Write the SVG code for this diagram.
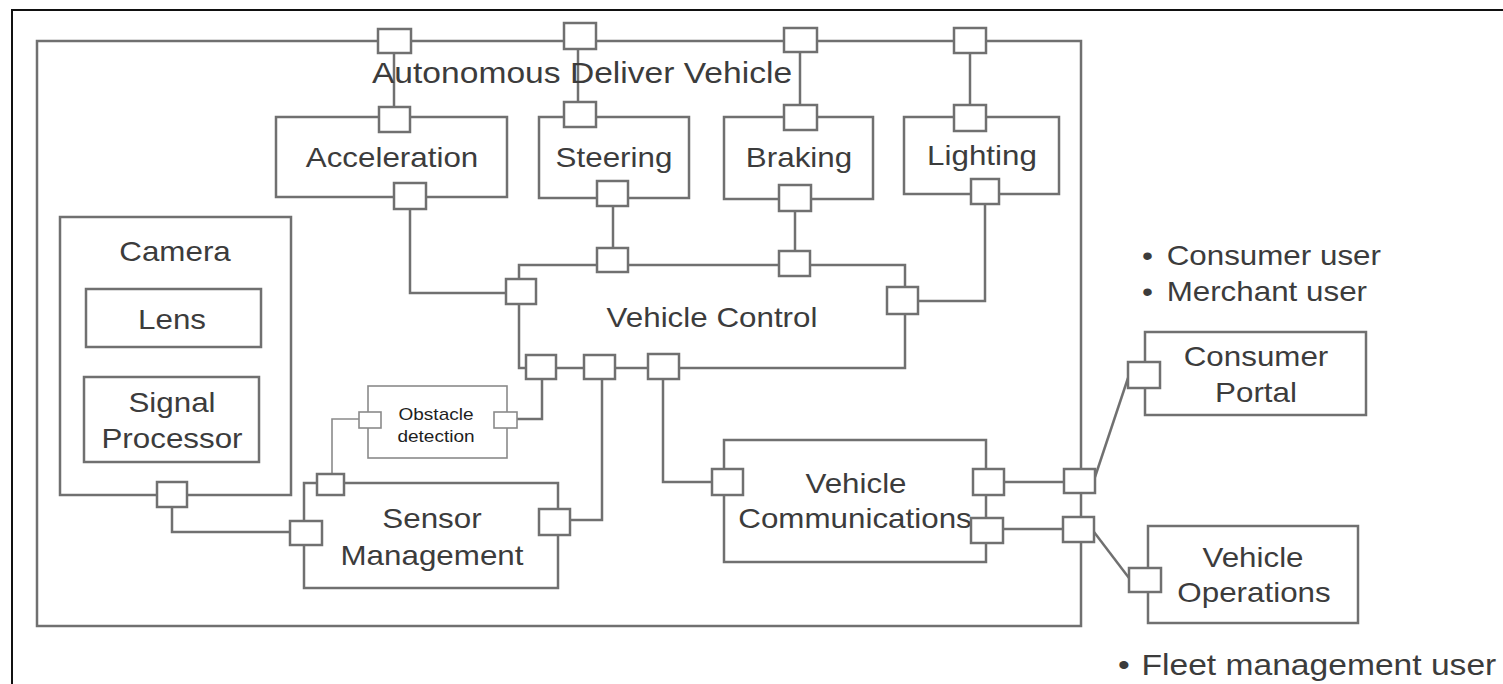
<svg xmlns="http://www.w3.org/2000/svg" width="1503" height="684" viewBox="0 0 1503 684">
  <style>
    .frame { fill: none; stroke: #111; stroke-width: 2; }
    .box { fill: #fff; stroke: #707070; stroke-width: 2.5; }
    .outer { fill: none; stroke: #707070; stroke-width: 2.5; }
    .port { fill: #fff; stroke: #707070; stroke-width: 2.5; }
    .thin { fill: #fff; stroke: #8a8a8a; stroke-width: 1.6; }
    .wire { fill: none; stroke: #707070; stroke-width: 2.5; }
    .wire-thin { fill: none; stroke: #8a8a8a; stroke-width: 1.6; }
    text { font-family: "Liberation Sans", Arial, sans-serif; fill: #3c3c3c; font-size: 28px; }
    .c { text-anchor: middle; }
    .title { font-size: 30px; }
    .small { font-size: 17px; fill: #1e1e1e; }
    .big { font-size: 30px; }
  </style>

  <!-- page border (top and left only) -->
  <path class="frame" d="M12 684 V10 H1503"/>

  <!-- connectors -->
  <g id="connectors">
    <path class="wire" d="M394 53 V107"/>
    <path class="wire" d="M578 49 V102"/>
    <path class="wire" d="M800 52 V105"/>
    <path class="wire" d="M970 53 V105"/>
    <path class="wire" d="M410 209 V293 H506"/>
    <path class="wire" d="M613 206 V248"/>
    <path class="wire" d="M795 211 V252"/>
    <path class="wire" d="M985 204 V301 H918"/>
    <path class="wire" d="M172 347 V377"/>
    <path class="wire" d="M172 462 V482"/>
    <path class="wire" d="M172 507 V532 H290"/>
    <path class="wire-thin" d="M332 474 V419 H359"/>
    <path class="wire" d="M517 419 H542 V379"/>
    <path class="wire" d="M602 379 V520 H570"/>
    <path class="wire" d="M663 379 V482 H712"/>
    <path class="wire" d="M1004 482 H1064"/>
    <path class="wire" d="M1003 529 H1063"/>
    <path class="wire" d="M1095 477 L1128 378"/>
    <path class="wire" d="M1094 532 L1129 578"/>
  </g>

  <!-- vehicle boundary -->
  <g id="vehicle">
    <rect class="outer" x="37" y="41" width="1044" height="585"/>
    <text class="c title" transform="translate(582 83) scale(1.12 1)">Autonomous Deliver Vehicle</text>
    <rect class="port" x="378" y="29" width="33" height="24"/>
    <rect class="port" x="564" y="23" width="32" height="26"/>
    <rect class="port" x="784" y="28" width="33" height="24"/>
    <rect class="port" x="954" y="28" width="32" height="25"/>
    <rect class="port" x="1064" y="469" width="31" height="24"/>
    <rect class="port" x="1063" y="517" width="31" height="25"/>
  </g>

  <g id="acceleration">
    <rect class="box" x="276" y="117" width="231" height="80"/>
    <text class="c" transform="translate(392 167) scale(1.12 1)">Acceleration</text>
    <rect class="port" x="379" y="107" width="31" height="25"/>
    <rect class="port" x="394" y="183" width="32" height="26"/>
  </g>

  <g id="steering">
    <rect class="box" x="539" y="117" width="150" height="81"/>
    <text class="c" transform="translate(614 167) scale(1.12 1)">Steering</text>
    <rect class="port" x="564" y="102" width="32" height="25"/>
    <rect class="port" x="597" y="181" width="31" height="25"/>
  </g>

  <g id="braking">
    <rect class="box" x="724" y="117" width="149" height="82"/>
    <text class="c" transform="translate(799 167) scale(1.12 1)">Braking</text>
    <rect class="port" x="784" y="105" width="33" height="25"/>
    <rect class="port" x="779" y="185" width="32" height="26"/>
  </g>

  <g id="lighting">
    <rect class="box" x="904" y="117" width="155" height="77"/>
    <text class="c" transform="translate(982 165) scale(1.12 1)">Lighting</text>
    <rect class="port" x="954" y="105" width="32" height="26"/>
    <rect class="port" x="971" y="179" width="28" height="25"/>
  </g>

  <g id="vehicle-control">
    <rect class="box" x="519" y="265" width="386" height="103"/>
    <text class="c" transform="translate(712 327) scale(1.12 1)">Vehicle Control</text>
    <rect class="port" x="597" y="248" width="31" height="24"/>
    <rect class="port" x="779" y="251" width="31" height="25"/>
    <rect class="port" x="506" y="279" width="30" height="25"/>
    <rect class="port" x="887" y="287" width="31" height="27"/>
    <rect class="port" x="526" y="355" width="30" height="24"/>
    <rect class="port" x="584" y="355" width="31" height="24"/>
    <rect class="port" x="648" y="354" width="31" height="25"/>
  </g>

  <g id="camera">
    <rect class="box" x="60" y="217" width="231" height="278"/>
    <text class="c" transform="translate(175 261) scale(1.12 1)">Camera</text>
    <rect class="port" x="157" y="482" width="30" height="25"/>
  </g>

  <g id="lens">
    <rect class="box" x="86" y="289" width="175" height="58"/>
    <text class="c" transform="translate(172 329) scale(1.12 1)">Lens</text>
  </g>

  <g id="signal-processor">
    <rect class="box" x="84" y="377" width="175" height="85"/>
    <text class="c" transform="translate(172 412) scale(1.12 1)">Signal</text>
    <text class="c" transform="translate(172 448) scale(1.12 1)">Processor</text>
  </g>

  <g id="obstacle-detection">
    <rect class="thin" x="368" y="386" width="139" height="72"/>
    <text class="c small" transform="translate(436 420) scale(1.12 1)">Obstacle</text>
    <text class="c small" transform="translate(436 442) scale(1.12 1)">detection</text>
    <rect class="thin" x="359" y="412" width="22" height="16"/>
    <rect class="thin" x="494" y="412" width="23" height="16"/>
  </g>

  <g id="sensor-management">
    <rect class="box" x="304" y="483" width="254" height="105"/>
    <text class="c" transform="translate(432 528) scale(1.12 1)">Sensor</text>
    <text class="c" transform="translate(432 565) scale(1.12 1)">Management</text>
    <rect class="port" x="317" y="474" width="27" height="21"/>
    <rect class="port" x="290" y="521" width="32" height="24"/>
    <rect class="port" x="539" y="509" width="31" height="26"/>
  </g>

  <g id="vehicle-communications">
    <rect class="box" x="724" y="440" width="262" height="122"/>
    <text class="c" transform="translate(856 493) scale(1.12 1)">Vehicle</text>
    <text class="c" transform="translate(855 528) scale(1.12 1)">Communications</text>
    <rect class="port" x="712" y="469" width="31" height="26"/>
    <rect class="port" x="973" y="469" width="31" height="26"/>
    <rect class="port" x="971" y="518" width="32" height="25"/>
  </g>

  <g id="consumer-portal">
    <rect class="box" x="1145" y="332" width="221" height="83"/>
    <text class="c" transform="translate(1256 366) scale(1.12 1)">Consumer</text>
    <text class="c" transform="translate(1256 402) scale(1.12 1)">Portal</text>
    <rect class="port" x="1128" y="362" width="32" height="26"/>
  </g>

  <g id="vehicle-operations">
    <rect class="box" x="1148" y="526" width="210" height="97"/>
    <text class="c" transform="translate(1253 567) scale(1.12 1)">Vehicle</text>
    <text class="c" transform="translate(1254 602) scale(1.12 1)">Operations</text>
    <rect class="port" x="1129" y="568" width="32" height="24"/>
  </g>

  <!-- user lists -->
  <g id="portal-users">
    <text transform="translate(1142 265) scale(1.12 1)">•<tspan x="22">Consumer user</tspan></text>
    <text transform="translate(1142 301) scale(1.12 1)">•<tspan x="22">Merchant user</tspan></text>
  </g>
  <g id="operations-users">
    <text class="big" transform="translate(1118 675) scale(1.12 1)">•<tspan x="21">Fleet management user</tspan></text>
  </g>
</svg>
